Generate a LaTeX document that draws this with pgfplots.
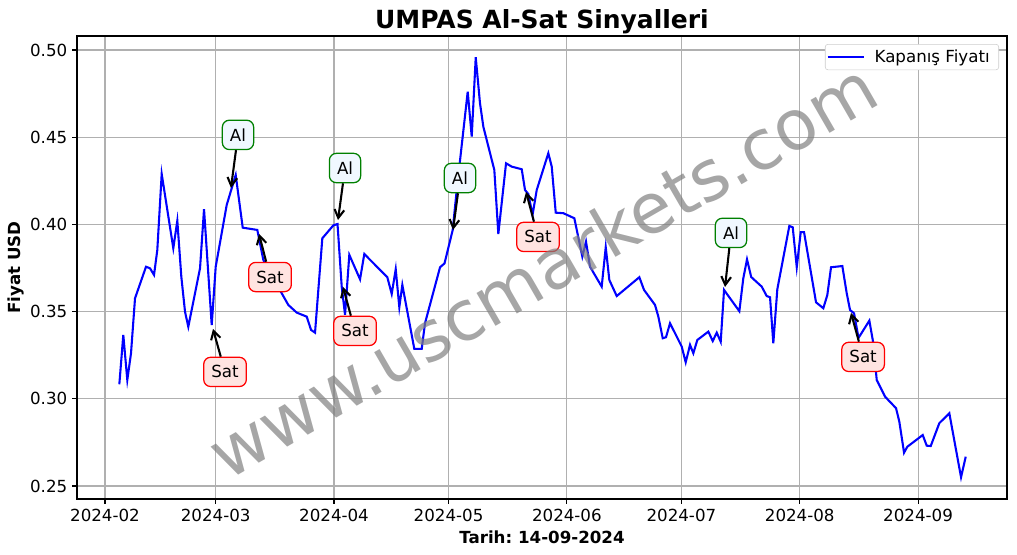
\documentclass[border=0pt]{standalone}
\usepackage{fontspec}
\setmainfont{DejaVu Sans}
\usepackage{pgfplots}
\pgfplotsset{compat=1.18}
\usetikzlibrary{arrows.meta}
\frenchspacing
\definecolor{gridgray}{HTML}{B0B0B0}
\definecolor{alfill}{HTML}{F0F8FF}
\definecolor{satfill}{HTML}{FFE4E1}
\definecolor{algreen}{HTML}{008000}
\definecolor{legdraw}{HTML}{CCCCCC}
\tikzset{
  sigbox/.style={rounded corners=5pt, inner xsep=5.5pt, inner ysep=6pt, line width=0.9pt, font=\fontsize{12}{14}\selectfont},
  albox/.style={sigbox, draw=algreen, fill=alfill},
  satbox/.style={sigbox, draw=red, fill=satfill},
  sarrow/.style={-{Straight Barb[length=6pt,width=7pt]}, line width=1.5pt, black},
}
\begin{document}
\begin{tikzpicture}
\begin{axis}[
  name=ax,
  at={(0,0)}, anchor=south west,
  scale only axis, width=669.6pt, height=333.4pt,
  xmin=-7.34, xmax=236.3, ymin=0.2425, ymax=0.508,
  xtick={0,29,60,90,121,151,182,213},
  xticklabels={2024-02,2024-03,2024-04,2024-05,2024-06,2024-07,2024-08,2024-09},
  ytick={0.25,0.30,0.35,0.40,0.45,0.50},
  yticklabel style={/pgf/number format/.cd,fixed,fixed zerofill,precision=2},
  /pgf/number format/assume math mode=true,
  grid=major, grid style={gridgray, line width=0.8pt},
  tick align=outside, tick pos=left, major tick length=3.5pt,
  tick style={black, line width=0.8pt},
  axis line style={line width=0.8pt},
  ticklabel style={font=\fontsize{12}{14}\selectfont},
  title={UMPAS Al-Sat Sinyalleri},
  title style={font=\bfseries\fontsize{18}{21}\selectfont, at={(axis description cs:0.5,1.0129)}, anchor=center},
  xlabel={Tarih: 14-09-2024},
  ylabel={Fiyat USD},
  xlabel style={font=\bfseries\fontsize{12}{14}\selectfont, at={(axis description cs:0.5,-0.0822)}, anchor=center},
  ylabel style={font=\bfseries\fontsize{12}{14}\selectfont, at={(axis description cs:-0.0656,0.5)}, anchor=center},
  legend style={at={(0.9914,0.9827)}, anchor=north east, draw=legdraw, rounded corners=2pt,
    font=\fontsize{12}{14}\selectfont, inner sep=1pt, column sep=4.6pt,
    nodes={inner xsep=2pt, inner ysep=2.9pt}},
  legend cell align=left,
  legend image code/.code={\draw[#1] (0cm,0cm) -- (0.93cm,0cm);},
]
\addplot[blue, line width=1.5pt] coordinates {
(3.75,0.3083) (4.79,0.3366) (5.84,0.3108) (6.81,0.3261) (7.86,0.3576)
(10.74,0.3757) (11.79,0.3748) (12.84,0.3710) (13.70,0.3853) (14.85,0.4289)
(17.89,0.3863) (18.94,0.4021) (19.99,0.3700) (20.96,0.3499) (21.82,0.3413)
(24.89,0.3748) (25.94,0.4087) (27.95,0.3423) (29.00,0.3757) (31.88,0.4111)
(32.93,0.4188) (34.24,0.4283) (36.08,0.3981) (39.90,0.3968) (41.47,0.3796)
(46.29,0.3605) (48.02,0.3538) (50.22,0.3494) (52.84,0.3471) (53.97,0.3395)
(55.02,0.3379) (56.93,0.3920) (59.81,0.3994) (60.91,0.4002) (62.01,0.3643)
(62.88,0.3481) (64.00,0.3825) (66.81,0.3685) (67.93,0.3830) (73.96,0.3697)
(75.11,0.3601) (76.16,0.3743) (77.10,0.3525) (77.89,0.3653) (81.03,0.3286)
(82.97,0.3286) (83.83,0.3433) (87.77,0.3754) (88.94,0.3776) (91.09,0.3968)
(92.14,0.4197) (95.02,0.4761) (96.07,0.4503) (97.12,0.4958) (98.24,0.4694)
(99.11,0.4560) (101.99,0.4312) (103.04,0.3945) (105.06,0.4350) (106.55,0.4331)
(109.17,0.4316) (110.03,0.4197) (110.90,0.4174) (112.00,0.4054) (113.10,0.4197)
(116.14,0.4408) (117.03,0.4331) (118.08,0.4067) (120.07,0.4064) (122.95,0.4035)
(125.05,0.3815) (126.01,0.3901) (127.06,0.3757) (130.12,0.3643) (131.18,0.3869)
(132.12,0.3681) (134.06,0.3589) (139.98,0.3697) (141.21,0.3624) (144.09,0.3538)
(144.96,0.3471) (146.11,0.3347) (146.97,0.3353) (148.02,0.3433) (151.09,0.3299)
(152.13,0.3209) (153.26,0.3309) (154.13,0.3261) (155.17,0.3337) (158.06,0.3385)
(159.21,0.3331) (160.26,0.3379) (161.30,0.3327) (162.17,0.3624) (166.18,0.3502)
(167.22,0.3691) (168.19,0.3799) (169.29,0.3698) (172.04,0.3643) (173.35,0.3589)
(174.22,0.3582) (175.08,0.3318) (176.13,0.3628) (179.28,0.3991) (180.17,0.3983)
(181.22,0.3754) (182.26,0.3955) (183.13,0.3955) (186.27,0.3553) (188.18,0.3519)
(189.23,0.3595) (190.20,0.3754) (193.16,0.3761) (194.31,0.3605) (195.18,0.3509)
(196.23,0.3490) (197.40,0.3349) (200.24,0.3448) (201.28,0.3318) (202.17,0.3108)
(204.35,0.3012) (207.23,0.2946) (208.09,0.2869) (209.33,0.2691) (210.19,0.2725)
(214.22,0.2792) (215.27,0.2731) (216.32,0.2729) (218.57,0.2860) (221.19,0.2917)
(224.26,0.2550) (225.49,0.2668)
};
\addlegendentry{Kapanış Fiyatı\hspace*{3.5pt}}
% signal annotations
\node[albox] (a1) at (axis cs:34.84,0.4513) {Al};
\draw[sarrow] (a1) -- (axis cs:33.0,0.4209);
\node[satbox] (s1) at (axis cs:31.44,0.3154) {Sat};
\draw[sarrow] (s1) -- (axis cs:28.29,0.3400);
\node[satbox] (s2) at (axis cs:43.23,0.3698) {Sat};
\draw[sarrow] (s2) -- (axis cs:40.35,0.3945);
\node[albox] (a2) at (axis cs:62.88,0.4323) {Al};
\draw[sarrow] (a2) -- (axis cs:61.04,0.4025);
\node[satbox] (s3) at (axis cs:65.50,0.3389) {Sat};
\draw[sarrow] (s3) -- (axis cs:62.35,0.3641);
\node[albox] (a3) at (axis cs:93.0,0.4266) {Al};
\draw[sarrow] (a3) -- (axis cs:91.17,0.3968);
\node[satbox] (s4) at (axis cs:113.44,0.3928) {Sat};
\draw[sarrow] (s4) -- (axis cs:110.30,0.4186);
\node[albox] (a4) at (axis cs:164.0,0.3951) {Al};
\draw[sarrow] (a4) -- (axis cs:162.43,0.3641);
\node[satbox] (s5) at (axis cs:198.6,0.3240) {Sat};
\draw[sarrow] (s5) -- (axis cs:195.44,0.3492);
% watermark
\node[rotate=30, text=gray, opacity=0.7, font=\fontsize{50}{60}\selectfont] at (axis cs:114.5,0.3739) {www.uscmarkets.com};
\end{axis}
\pgfresetboundingbox
\path[use as bounding box] ([shift={(-55.44pt,-39.6pt)}]ax.south west) rectangle ([shift={(7.2pt,25.92pt)}]ax.north east);
\end{tikzpicture}
\end{document}
